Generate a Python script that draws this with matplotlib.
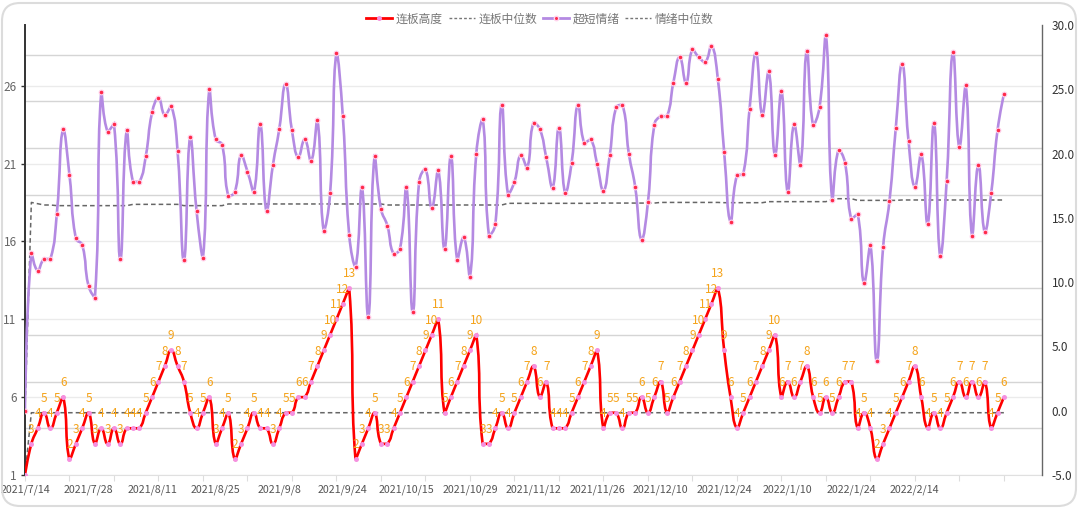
import numpy as np
import matplotlib
matplotlib.use('Agg')
import matplotlib.pyplot as plt
from matplotlib.path import Path
from matplotlib.patches import PathPatch, FancyBboxPatch
from matplotlib.lines import Line2D

plt.rcParams['font.family'] = ['Noto Sans CJK SC', 'DejaVu Sans']

# x axis labels, one every 10 trading days
x_labels = ['2021/7/14', '2021/7/28', '2021/8/11', '2021/8/25', '2021/9/8',
            '2021/9/24', '2021/10/15', '2021/10/29', '2021/11/12', '2021/11/26',
            '2021/12/10', '2021/12/24', '2022/1/10', '2022/1/24', '2022/2/14']

# 连板高度 (left axis)
height = [1, 3, 4, 5, 4, 5, 6, 2, 3, 4,
          5, 3, 4, 3, 4, 3, 4, 4, 4, 5,
          6, 7, 8, 9, 8, 7, 5, 4, 5, 6,
          3, 4, 5, 2, 3, 4, 5, 4, 4, 3,
          4, 5, 5, 6, 6, 7, 8, 9, 10, 11,
          12, 13, 2, 3, 4, 5, 3, 3, 4, 5,
          6, 7, 8, 9, 10, 11, 5, 6, 7, 8,
          9, 10, 3, 3, 4, 5, 4, 5, 6, 7,
          8, 6, 7, 4, 4, 4, 5, 6, 7, 8,
          9, 4, 5, 5, 4, 5, 5, 6, 5, 6,
          7, 5, 6, 7, 8, 9, 10, 11, 12, 13,
          9, 6, 4, 5, 6, 7, 8, 9, 10, 6,
          7, 6, 7, 8, 6, 5, 6, 5, 6, 7,
          7, 4, 5, 4, 2, 3, 4, 5, 6, 7,
          8, 6, 4, 5, 4, 5, 6, 7, 6, 7,
          6, 7, 4, 5, 6]

# 连板中位数 (left axis)
height_median = [1, 5, 5, 5, 5, 5, 5, 5, 5, 5,
                 5, 5, 5, 5, 5, 5, 5, 5, 5, 5,
                 5, 5, 5, 5, 5, 5, 5, 5, 5, 5,
                 5, 5, 5, 5, 5, 5, 5, 5, 5, 5,
                 5, 5, 5, 5, 5, 5, 5, 5, 5, 5,
                 5, 5, 5, 5, 5, 5, 5, 5, 5, 5,
                 5, 5, 5, 5, 5, 5, 5, 5, 5, 5,
                 5, 5, 5, 5, 5, 5, 5, 5, 5, 5,
                 5, 5, 5, 5, 5, 5, 5, 5, 5, 5,
                 5, 5, 5, 5, 5, 5, 5, 5, 5, 5,
                 5, 5, 5, 5, 5, 5, 5, 5, 5, 5,
                 5, 5, 5, 5, 5, 5, 5, 5, 5, 5,
                 5, 5, 5, 5, 5, 5, 5, 5, 5, 5,
                 5, 5, 5, 5, 5, 5, 5, 5, 5, 5,
                 5, 5, 5, 5, 5, 5, 5, 5, 5, 5,
                 5, 5, 5, 5, 5]

# 超短情绪 (right axis)
mood = [0.0, 12.3, 10.9, 11.8, 11.8, 15.3, 21.9, 18.3, 13.4, 12.9,
        9.7, 8.8, 24.8, 21.7, 22.3, 11.8, 21.8, 17.8, 17.8, 19.8,
        23.2, 24.3, 23.0, 23.7, 20.2, 11.7, 21.3, 15.5, 11.9, 25.0,
        21.1, 20.7, 16.7, 17.0, 19.9, 18.6, 17.0, 22.3, 15.5, 19.1,
        21.9, 25.4, 21.8, 19.7, 21.1, 19.4, 22.6, 14.0, 16.9, 27.8,
        22.9, 13.7, 11.2, 17.4, 7.3, 19.8, 15.7, 14.4, 12.2, 12.6,
        17.4, 7.7, 17.8, 18.8, 15.8, 18.7, 12.6, 19.8, 11.7, 13.5,
        10.4, 20.0, 22.7, 13.6, 14.5, 23.8, 16.8, 17.8, 19.9, 18.9,
        22.4, 21.9, 19.7, 17.3, 22.0, 16.9, 19.3, 23.8, 20.8, 21.1,
        19.2, 17.1, 19.9, 23.6, 23.8, 20.0, 17.4, 13.3, 16.2, 22.2,
        22.9, 22.9, 25.5, 27.5, 25.5, 28.1, 27.5, 27.1, 28.4, 25.8,
        20.1, 14.7, 18.3, 18.4, 23.5, 27.8, 23.0, 26.4, 19.9, 24.9,
        17.0, 22.3, 19.1, 28.0, 22.2, 23.6, 29.2, 16.4, 20.3, 19.3,
        14.9, 15.3, 9.9, 12.9, 3.9, 12.7, 16.3, 22.0, 27.0, 21.0,
        17.4, 20.0, 14.5, 22.4, 12.0, 17.9, 27.9, 20.5, 25.3, 13.6,
        19.1, 13.9, 16.9, 21.8, 24.6]

# 情绪中位数 (right axis)
mood_median = [0.0, 16.2, 16.1, 16.0, 16.0, 15.95, 15.95, 15.95, 15.95, 15.95,
               15.95, 15.95, 15.95, 15.95, 15.95, 15.95, 15.95, 16.05, 16.05, 16.05,
               16.05, 16.05, 16.05, 16.05, 16.05, 15.95, 15.95, 15.95, 15.95, 15.95,
               15.95, 15.95, 16.08, 16.08, 16.08, 16.08, 16.08, 16.08, 16.08, 16.08,
               16.08, 16.08, 16.08, 16.08, 16.08, 16.08, 16.08, 16.08, 16.08, 16.08,
               16.08, 16.08, 16.08, 16.08, 16.08, 16.08, 16.08, 16.0, 16.0, 16.0,
               16.0, 16.0, 16.0, 16.0, 16.0, 16.0, 16.0, 16.0, 16.0, 16.0,
               16.0, 16.0, 16.0, 16.0, 16.0, 16.0, 16.13, 16.13, 16.13, 16.13,
               16.13, 16.13, 16.13, 16.13, 16.13, 16.13, 16.13, 16.13, 16.13, 16.13,
               16.15, 16.15, 16.15, 16.15, 16.15, 16.15, 16.15, 16.15, 16.15, 16.15,
               16.2, 16.2, 16.2, 16.2, 16.2, 16.2, 16.2, 16.2, 16.2, 16.2,
               16.18, 16.18, 16.18, 16.18, 16.18, 16.18, 16.18, 16.26, 16.26, 16.26,
               16.26, 16.26, 16.26, 16.26, 16.26, 16.26, 16.26, 16.44, 16.49, 16.49,
               16.49, 16.36, 16.36, 16.36, 16.36, 16.36, 16.36, 16.36, 16.39, 16.39,
               16.39, 16.39, 16.39, 16.39, 16.39, 16.39, 16.39, 16.39, 16.39, 16.39,
               16.39, 16.39, 16.39, 16.39, 16.39]


def smooth_path(xs, ys, sx, sy, smooth=0.5):
    # echarts-style smoothing: control points clamped to each segment's box
    px = np.asarray(xs, float) * sx
    py = np.asarray(ys, float) * sy
    n = len(px)
    cp_in = np.column_stack([px, py])
    cp_out = np.column_stack([px, py])
    for i in range(1, n - 1):
        x, y = px[i], py[i]
        x0, y0, x1, y1 = px[i - 1], py[i - 1], px[i + 1], py[i + 1]
        vx, vy = x1 - x0, y1 - y0
        d0 = np.hypot(x - x0, y - y0)
        d1 = np.hypot(x1 - x, y1 - y)
        r = d1 / (d0 + d1) if d0 + d1 > 0 else 0.5
        ox = np.clip(x + vx * smooth * r, min(x, x1), max(x, x1))
        oy = np.clip(y + vy * smooth * r, min(y, y1), max(y, y1))
        ix = np.clip(x - vx * smooth * (1 - r), min(x, x0), max(x, x0))
        iy = np.clip(y - vy * smooth * (1 - r), min(y, y0), max(y, y0))
        cp_in[i] = (ix, iy)
        cp_out[i] = (ox, oy)
    verts = [(px[0], py[0])]
    codes = [Path.MOVETO]
    for i in range(n - 1):
        verts += [tuple(cp_out[i]), tuple(cp_in[i + 1]), (px[i + 1], py[i + 1])]
        codes += [Path.CURVE4] * 3
    verts = np.array(verts)
    verts[:, 0] /= sx
    verts[:, 1] /= sy
    return Path(verts, codes)


W, H = 1080, 508
fig = plt.figure(figsize=(W / 100, H / 100), dpi=100)
pl, pr, pb, pt = 25, 1042, 475, 25
ax = fig.add_axes([pl / W, 1 - pb / H, (pr - pl) / W, (pb - pt) / H])
ax2 = ax.twinx()

xmax = 160
ax.set_xlim(0, xmax)
ax.set_ylim(1, 29.9)
ax2.set_ylim(-5, 30)

sx = (pr - pl) / xmax
sy_left = (pb - pt) / (29.9 - 1)
sy_right = (pb - pt) / 35.0

xi = np.arange(len(height))

# grid lines
ax.set_yticks([1, 6, 11, 16, 21, 26])
ax.set_yticks(np.arange(4, 29, 3), minor=True)
ax.grid(axis='y', which='major', color='#ebebeb', lw=1)
ax.grid(axis='y', which='minor', color='#d5d5d5', lw=1)
ax.set_axisbelow(True)

# medians
ax.plot(xi, height_median, color='#666666', lw=1.1, ls=(0, (3, 2)), zorder=2)
ax2.plot(xi, mood_median, color='#666666', lw=1.1, ls=(0, (3, 2)), zorder=2)

# 连板高度
ax.add_patch(PathPatch(smooth_path(xi, height, sx, sy_left), fc='none', ec='#ff0000',
                       lw=1.9, zorder=3))
ax.plot(xi, height, 'o', ms=3.6, mfc='#f590df', mec='none', zorder=4)
for i, v in enumerate(height):
    if i == 0:
        continue
    ax.annotate(str(v), (i, v), xytext=(0, 10.5), textcoords='offset points',
                ha='center', va='center', color='#f5a31a', fontsize=8.5, zorder=5)

# 超短情绪
ax2.add_patch(PathPatch(smooth_path(xi, mood, sx, sy_right), fc='none', ec='#b48ae2',
                        lw=1.9, zorder=3))
ax2.plot(xi, mood, 'o', ms=3.4, mfc='#ff2a4a', mec='#ffd2ec', mew=0.8, zorder=4)

# axes styling
for s in ['top', 'right']:
    ax.spines[s].set_visible(False)
ax.spines['left'].set_color('#333333')
ax.spines['left'].set_linewidth(1.4)
ax.spines['bottom'].set_color('#e0e0e0')
for s in ['top', 'left', 'bottom']:
    ax2.spines[s].set_visible(False)
ax2.spines['right'].set_color('#666666')
ax2.spines['right'].set_linewidth(1.0)

ax.tick_params(axis='y', which='major', length=3, width=1, color='#333333',
               labelcolor='#666666', labelsize=8.5, pad=3)
ax.tick_params(axis='y', which='minor', length=0)

# tick marks every 7 categories, labels every 10
ax.xaxis.remove_overlapping_locs = False
ax.set_xticks(np.arange(0, 155, 7))
ax.set_xticklabels([])
ax.set_xticks(np.arange(0, 10 * len(x_labels), 10), minor=True)
ax.set_xticklabels(x_labels, minor=True)
ax.tick_params(axis='x', which='major', length=4, color='#dddddd')
ax.tick_params(axis='x', which='minor', length=0, pad=7, labelcolor='#555555',
               labelsize=7.7)

rticks = np.arange(-5, 31, 5)
ax2.set_yticks(rticks, labels=[f'{t:.1f}' for t in rticks])
ax2.tick_params(axis='y', length=0, pad=7, labelcolor='#333333', labelsize=8.5)

# legend
handles = [
    Line2D([], [], color='#ff0000', lw=2, marker='o', ms=3.6, mfc='#f590df', mec='none'),
    Line2D([], [], color='#777777', lw=1, ls=(0, (2, 1.5))),
    Line2D([], [], color='#b48ae2', lw=2, marker='o', ms=3.2, mfc='#ff2a4a', mec='#ffd2ec'),
    Line2D([], [], color='#777777', lw=1, ls=(0, (2, 1.5))),
]
fig.legend(handles, ['连板高度', '连板中位数', '超短情绪', '情绪中位数'], loc='center',
           bbox_to_anchor=(0.5, 1 - 19 / H), ncol=4, frameon=False, fontsize=8.5,
           handlelength=2.2, handletextpad=0.3, columnspacing=0.5, numpoints=1,
           labelcolor='#777777')

# card border
fig.add_artist(FancyBboxPatch((2, 2), 1074, 503, boxstyle='round,pad=0,rounding_size=18',
                              transform=None, fc='none', ec='#dcdcdc', lw=1.5))

fig.savefig('out.png', dpi=100)
